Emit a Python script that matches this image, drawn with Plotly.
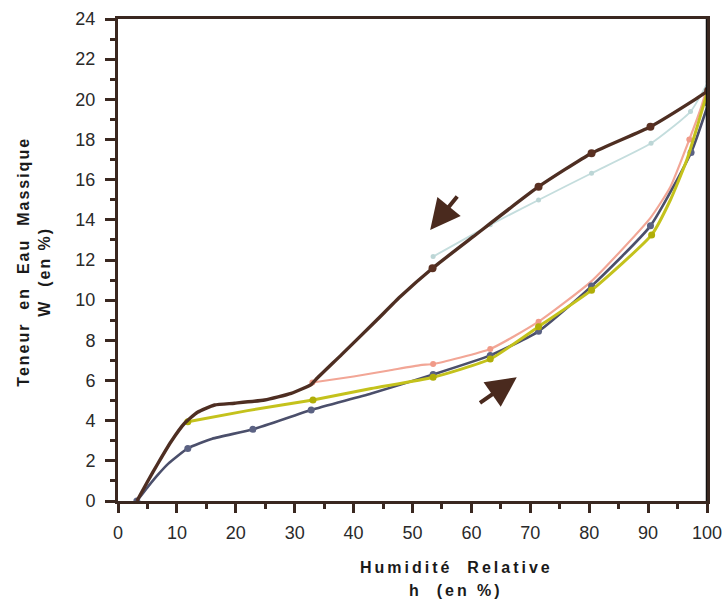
import plotly.graph_objects as go

# ---- data ----
# desorption curve (dark brown)
brown_x = [3.2, 5.0, 6.8, 9.0, 11.3, 13.5, 16.4, 19.8, 24.9, 29.4, 32.8, 33.6, 38.0, 43.9, 47.9, 53.4, 60.3, 71.4, 80.4, 90.4, 98.0, 100.2]
brown_y = [0.0, 0.96, 1.88, 2.95, 3.87, 4.42, 4.78, 4.87, 5.03, 5.36, 5.8, 6.05, 7.3, 9.0, 10.17, 11.59, 13.16, 15.65, 17.32, 18.64, 20.0, 20.43]
brown_mx = [53.4, 71.4, 80.4, 90.4, 100.2]
brown_my = [11.59, 15.65, 17.32, 18.64, 20.43]

# light blue desorption branch
lb_x = [53.5, 63.2, 71.4, 80.4, 90.5, 97.2, 100.2]
lb_y = [12.17, 13.75, 14.99, 16.32, 17.81, 19.39, 20.88]

# pink adsorption branch
pk_x = [33.0, 40.0, 46.0, 51.3, 53.5, 63.2, 71.4, 80.4, 90.4, 93.8, 97.0, 99.0, 100.2]
pk_y = [5.9, 6.2, 6.5, 6.77, 6.82, 7.57, 8.93, 10.95, 14.1, 15.65, 18.0, 19.6, 20.8]
pk_mx = [33.0, 53.5, 63.2, 71.4, 97.0]
pk_my = [5.9, 6.82, 7.57, 8.93, 18.0]

# yellow adsorption branch
yl_x = [11.85, 22.0, 33.1, 43.0, 53.5, 63.2, 71.4, 80.4, 90.6, 93.8, 96.6, 98.5, 100.0]
yl_y = [3.95, 4.5, 5.03, 5.6, 6.16, 7.07, 8.68, 10.5, 13.25, 15.0, 17.0, 18.8, 20.3]
yl_mx = [11.85, 33.1, 53.5, 63.2, 71.4, 80.4, 90.6]
yl_my = [3.95, 5.03, 6.16, 7.07, 8.68, 10.5, 13.25]

# slate blue adsorption curve
bl_x = [3.2, 5.0, 6.75, 8.5, 11.85, 16.0, 22.9, 32.8, 43.0, 53.5, 63.2, 71.4, 80.4, 90.4, 97.3, 100.2]
bl_y = [0.0, 0.68, 1.3, 1.85, 2.62, 3.1, 3.57, 4.53, 5.35, 6.3, 7.25, 8.45, 10.7, 13.7, 17.35, 19.77]
bl_mx = [3.2, 11.85, 22.9, 32.8, 53.5, 63.2, 71.4, 80.4, 90.4, 97.3, 100.2]
bl_my = [0.0, 2.62, 3.57, 4.53, 6.3, 7.25, 8.45, 10.7, 13.7, 17.35, 19.77]

# arrows: (tail x, tail y, head x, head y)
arrow_down = [57.8, 15.24, 53.0, 13.5]
arrow_up = [61.2, 4.83, 67.7, 6.16]

x_ticks = [0, 10, 20, 30, 40, 50, 60, 70, 80, 90, 100]
y_ticks = [0, 2, 4, 6, 8, 10, 12, 14, 16, 18, 20, 22, 24]

BROWN = "#4e2e22"
AX = "#3a2820"

fig = go.Figure()

def curve(x, y, color, width):
    fig.add_trace(go.Scatter(x=x, y=y, mode="lines",
                             line=dict(color=color, width=width, shape="spline", smoothing=0.5),
                             hoverinfo="skip", showlegend=False))

def marks(x, y, color, size, symbol="circle"):
    fig.add_trace(go.Scatter(x=x, y=y, mode="markers",
                             marker=dict(color=color, size=size, symbol=symbol),
                             hoverinfo="skip", showlegend=False))

curve(lb_x, lb_y, "#c4dddd", 1.8)
marks(lb_x, lb_y, "#bcd6d6", 5)
curve(pk_x, pk_y, "#f2a696", 2.2)
marks(pk_mx, pk_my, "#f09a88", 6)
curve(bl_x, bl_y, "#4b4f6b", 2.6)
marks(bl_mx, bl_my, "#5b6283", 7)
curve(yl_x, yl_y, "#c4c21c", 3)
marks(yl_mx, yl_my, "#b0ae08", 7)
curve(brown_x, brown_y, BROWN, 3.4)
marks(brown_mx, brown_my, "#5a3022", 8)

for a in (arrow_down, arrow_up):
    fig.add_annotation(x=a[2], y=a[3], ax=a[0], ay=a[1], xref="x", yref="y",
                       axref="x", ayref="y", text="", showarrow=True,
                       arrowhead=2, arrowsize=1.5, arrowwidth=4, arrowcolor="#4a2a1e",
                       standoff=0)

LSX = "letter-spacing:3px"
LSY = "letter-spacing:2px"
title_font = dict(family="Liberation Sans, Arial, sans-serif", size=16, color="#1a1a1a", weight="bold")
fig.add_annotation(text=f'<span style="{LSX}">Humidité\u00a0\u00a0Relative</span>',
                   xref="paper", yref="paper", x=0.574, y=-0.139, xanchor="center", yanchor="middle",
                   showarrow=False, font=title_font)
fig.add_annotation(text=f'<span style="{LSX}">h\u00a0\u00a0(en\u00a0%)</span>',
                   xref="paper", yref="paper", x=0.574, y=-0.185, xanchor="center", yanchor="middle",
                   showarrow=False, font=title_font)
fig.add_annotation(text=f'<span style="{LSY}">Teneur\u00a0\u00a0en\u00a0\u00a0Eau\u00a0\u00a0Massique</span>',
                   xref="paper", yref="paper", x=-0.160, y=0.496, xanchor="center", yanchor="middle",
                   textangle=-90, showarrow=False, font=title_font)
fig.add_annotation(text=f'<span style="{LSY}">W\u00a0\u00a0(en\u00a0%)</span>',
                   xref="paper", yref="paper", x=-0.126, y=0.475, xanchor="center", yanchor="middle",
                   textangle=-90, showarrow=False, font=title_font)

# right border in black
fig.add_shape(type="line", xref="x", yref="paper", x0=100, x1=100, y0=0, y1=1,
              line=dict(color="#111111", width=2.5))

tick_font = dict(family="Liberation Sans, Arial, sans-serif", size=18, color="#2a2a2a")
fig.update_xaxes(range=[0, 100], tickvals=x_ticks, ticktext=[str(v) for v in x_ticks],
                 showgrid=False, zeroline=False, showline=True, mirror=True, automargin=False,
                 linecolor=AX, linewidth=3, ticks="outside", ticklen=9, tickwidth=2.5,
                 tickcolor=AX, tickfont=tick_font, ticklabelstandoff=4,
                 minor=dict(dtick=5, ticks="outside", ticklen=5, tickwidth=2.5, tickcolor=AX))
fig.update_yaxes(range=[0, 24], tickvals=y_ticks, ticktext=[str(v) for v in y_ticks],
                 showgrid=False, zeroline=False, showline=True, mirror=True, automargin=False,
                 linecolor=AX, linewidth=3, ticks="outside", ticklen=10, tickwidth=2.5,
                 tickcolor=AX, tickfont=tick_font, ticklabelstandoff=6,
                 minor=dict(dtick=1, ticks="outside", ticklen=5, tickwidth=2.5, tickcolor=AX))

fig.update_layout(width=725, height=603, margin=dict(l=118, r=18, t=19, b=102),
                  paper_bgcolor="white", plot_bgcolor="white", showlegend=False)

# remove the default page margin so the figure fills the window exactly
fig.write_html("out.html", config={"displayModeBar": False},
               post_script="document.body.style.margin='0px'; document.body.style.overflow='hidden';")
